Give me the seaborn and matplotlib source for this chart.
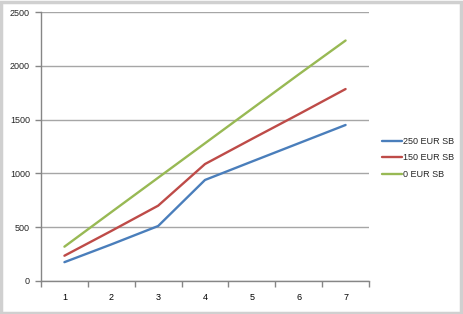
import matplotlib
matplotlib.use("Agg")
import matplotlib.pyplot as plt
import seaborn as sns
import pandas as pd
from matplotlib.patches import Rectangle
from matplotlib.ticker import FixedLocator, NullFormatter

categories = [1, 2, 3, 4, 5, 6, 7]
s250 = [175, 340, 511, 939, 1110, 1280, 1450]
s150 = [235, 465, 700, 1087, 1320, 1550, 1784]
s0 = [319, 640, 960, 1280, 1600, 1920, 2235]
series_names = ["250 EUR SB", "150 EUR SB", "0 EUR SB"]
colors = ["#4A7EBB", "#BE4B48", "#98B954"]

df = pd.DataFrame({
    "x": categories * 3,
    "y": s250 + s150 + s0,
    "series": [series_names[0]] * 7 + [series_names[1]] * 7 + [series_names[2]] * 7,
})

sns.set_style("white")
plt.rcParams["font.family"] = ["Liberation Sans", "DejaVu Sans"]

W, H = 463, 314
fig = plt.figure(figsize=(W / 100, H / 100), dpi=100)
ax = fig.add_axes([41 / W, 1 - 281 / H, (369 - 41) / W, (281 - 12) / H])

sns.lineplot(data=df, x="x", y="y", hue="series", palette=colors,
             hue_order=series_names, linewidth=1.7, ax=ax, legend=True)

ax.set_xlim(0.5, 7.5)
ax.set_ylim(0, 2500)
ax.set_yticks([0, 500, 1000, 1500, 2000, 2500])
ax.yaxis.grid(True, color="#A6A6A6", linewidth=1.0)
ax.set_axisbelow(True)
ax.set_xlabel("")
ax.set_ylabel("")

ax.xaxis.set_major_locator(FixedLocator([0.5 + i for i in range(8)]))
ax.xaxis.set_major_formatter(NullFormatter())
ax.xaxis.set_minor_locator(FixedLocator(categories))
ax.set_xticklabels([str(c) for c in categories], minor=True)
ax.tick_params(axis="x", which="major", length=4, color="#868686", width=1, direction="out", bottom=True)
ax.tick_params(axis="x", which="minor", length=0, labelsize=6.5, pad=9, colors="#000000")
ax.tick_params(axis="y", length=4, color="#868686", width=1, direction="out", left=True, labelsize=6.5, pad=4)

for side in ["top", "right"]:
    ax.spines[side].set_visible(False)
for side in ["left", "bottom"]:
    ax.spines[side].set_color("#868686")
    ax.spines[side].set_linewidth(1.0)

leg = ax.legend(loc="center left", bbox_to_anchor=(382 / W, 1 - 158 / H),
                bbox_transform=fig.transFigure, frameon=False, fontsize=6.5,
                handlelength=2.2, handletextpad=0.15, labelspacing=0.85,
                borderpad=0, borderaxespad=0)

fig.patches.append(Rectangle((0.003, 0.004), 0.993, 0.991, transform=fig.transFigure,
                             fill=False, edgecolor="#D0D0D0", linewidth=2.5))

fig.savefig("out.png", dpi=100)
